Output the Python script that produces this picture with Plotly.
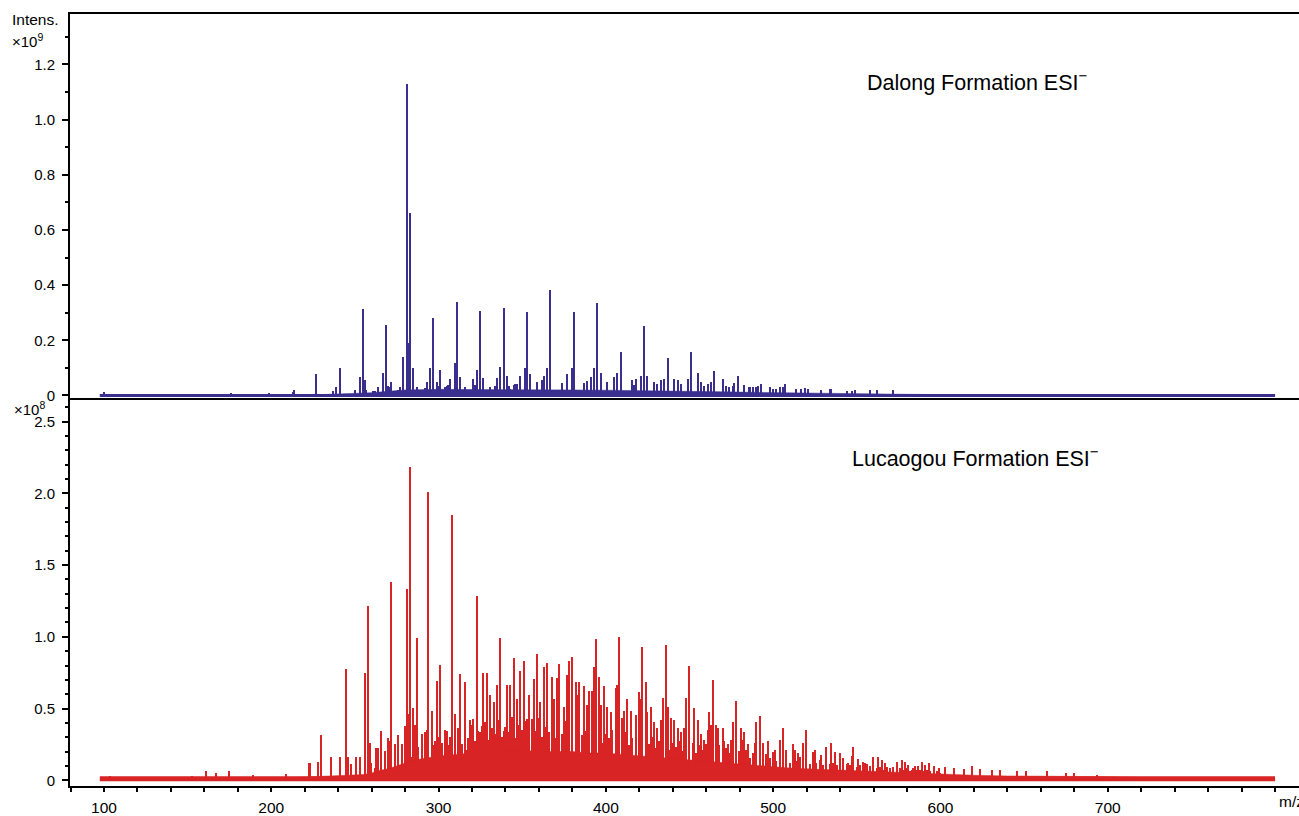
import plotly.graph_objects as go

# ---------------- DATA ----------------
# Dalong Formation (top, intensity x1e9)
dalong_mz = [100, 104, 120, 140, 160, 176, 199, 213, 214, 227, 237, 239, 241, 250, 253, 255, 256, 257,
             261, 262, 264, 267, 269, 270, 271, 272, 276, 277, 279, 281, 282, 283, 285, 287, 290, 292,
             293, 295, 297, 299, 300, 301, 304, 305, 306, 307, 310, 311, 313, 316, 319, 321, 322, 323,
             325, 327, 331, 334, 335, 337, 339, 341, 342, 343, 345, 346, 347, 349, 352, 353, 355, 359,
             362, 363, 365, 367, 374, 377, 380, 381, 387, 389, 391, 393, 395, 397, 401, 405, 407, 409,
             416, 417, 418, 421, 423, 425, 429, 431, 433, 435, 437, 441, 443, 445, 449, 451, 455, 457,
             459, 461, 463, 465, 470, 472, 474, 476, 477, 479, 483, 486, 488, 490, 491, 493, 498, 500,
             502, 504, 506, 507, 514, 517, 519, 521, 529, 534, 535, 544, 547, 549, 558, 562, 572]
dalong_int = [0.012, 0.006, 0.006, 0.006, 0.006, 0.008, 0.008, 0.012, 0.018, 0.079, 0.015, 0.03, 0.099, 0.02, 0.068, 0.314, 0.055, 0.02,
              0.015, 0.015, 0.03, 0.083, 0.254, 0.035, 0.03, 0.047, 0.02, 0.03, 0.14, 1.13, 0.19, 0.66, 0.10, 0.03, 0.018, 0.028,
              0.048, 0.10, 0.28, 0.048, 0.033, 0.094, 0.03, 0.033, 0.036, 0.06, 0.119, 0.338, 0.068, 0.03, 0.02, 0.059, 0.036, 0.094,
              0.307, 0.064, 0.03, 0.035, 0.062, 0.104, 0.317, 0.07, 0.033, 0.025, 0.036, 0.043, 0.04, 0.071, 0.10, 0.302, 0.077, 0.047,
              0.055, 0.071, 0.10, 0.383, 0.045, 0.077, 0.10, 0.302, 0.045, 0.052, 0.068, 0.10, 0.335, 0.082, 0.047, 0.066, 0.082, 0.158,
              0.057, 0.037, 0.06, 0.071, 0.253, 0.071, 0.047, 0.042, 0.057, 0.06, 0.136, 0.06, 0.057, 0.04, 0.06, 0.158, 0.082, 0.047,
              0.035, 0.04, 0.047, 0.088, 0.061, 0.035, 0.03, 0.035, 0.045, 0.071, 0.037, 0.03, 0.03, 0.03, 0.035, 0.04, 0.03, 0.025,
              0.025, 0.03, 0.03, 0.04, 0.025, 0.025, 0.027, 0.025, 0.018, 0.022, 0.022, 0.016, 0.016, 0.018, 0.018, 0.018, 0.018]
dalong_env_mz = [230, 250, 260, 270, 280, 300, 320, 340, 360, 380, 400, 420, 440, 460, 480, 500, 520, 540, 560, 580, 600]
dalong_env = [0.003, 0.006, 0.01, 0.015, 0.02, 0.022, 0.022, 0.021, 0.02, 0.02, 0.019, 0.018, 0.016, 0.014, 0.012, 0.01, 0.008, 0.006, 0.005, 0.004, 0.003]

# Lucaogou Formation (bottom, intensity x1e8) - main peaks
lucaogou_mz = [104, 153, 161, 167, 175, 189, 209, 223, 228, 230, 236, 241, 245, 246, 248, 251, 253, 256, 258, 259,
               263, 264, 266, 268, 270, 271, 272, 274, 276, 278, 280, 281, 282, 283, 285, 286, 287, 288, 290, 292,
               293, 294, 296, 297, 298, 299, 301, 302, 305, 307, 308, 310, 312, 313, 314, 316, 317, 319, 321, 323,
               325, 326, 327, 329, 331, 333, 335, 337, 339, 341, 343, 345, 347, 349, 351, 353, 354, 356, 357, 359,
               361, 363, 365, 368, 369, 371, 372, 375, 377, 378, 380, 382, 383, 384, 387, 389, 390, 392, 393, 394,
               396, 397, 399, 401, 403, 406, 407, 408, 410, 411, 413, 415, 418, 420, 421, 422, 424, 425, 427, 429,
               431, 433, 434, 436, 437, 439, 441, 443, 445, 447, 448, 450, 453, 455, 457, 459, 461, 462, 463, 464,
               466, 467, 470, 471, 473, 475, 476, 478, 481, 482, 483, 485, 489, 490, 492, 494, 497, 500, 501, 504,
               506, 508, 512, 513, 515, 518, 520, 524, 525, 529, 532, 535, 537, 540, 542, 545, 547, 548, 551, 554,
               555, 558, 560, 563, 565, 567, 572, 574, 577, 579, 581, 583, 585, 587, 589, 591, 593, 596, 599, 603,
               608, 614, 619, 624, 631, 636, 646, 651, 664, 675, 680, 694]
lucaogou_int = [0.03, 0.03, 0.058, 0.046, 0.058, 0.035, 0.04, 0.12, 0.125, 0.315, 0.16, 0.16, 0.775, 0.16, 0.11, 0.16, 0.16, 0.745, 1.215, 0.26,
                0.22, 0.22, 0.34, 0.19, 0.29, 0.27, 1.38, 0.25, 0.31, 0.24, 0.375, 1.33, 0.46, 2.18, 0.50, 0.38, 0.99, 0.23, 0.32, 0.27,
                0.35, 2.01, 0.48, 0.24, 0.27, 0.69, 0.80, 0.16, 0.34, 0.30, 1.845, 0.46, 0.35, 0.736, 0.19, 0.68, 0.21, 0.415, 0.425, 1.28,
                0.33, 0.375, 0.745, 0.745, 0.59, 0.54, 0.66, 0.99, 0.34, 0.66, 0.66, 0.85, 0.56, 0.76, 0.83, 0.425, 0.59, 0.425, 0.70, 0.88,
                0.54, 0.787, 0.817, 0.717, 0.56, 0.71, 0.805, 0.51, 0.733, 0.83, 0.856, 0.683, 0.59, 0.683, 0.653, 0.52, 0.62, 0.62, 0.787, 0.98,
                0.72, 0.52, 0.653, 0.51, 0.47, 0.64, 0.66, 0.993, 0.43, 0.48, 0.56, 0.48, 0.45, 0.61, 0.56, 0.926, 0.68, 0.47, 0.51, 0.40,
                0.36, 0.42, 0.57, 0.937, 0.51, 0.43, 0.42, 0.36, 0.33, 0.36, 0.57, 0.794, 0.50, 0.42, 0.32, 0.28, 0.35, 0.47, 0.38, 0.694,
                0.38, 0.36, 0.36, 0.27, 0.25, 0.28, 0.40, 0.548, 0.36, 0.28, 0.33, 0.25, 0.26, 0.40, 0.446, 0.26, 0.27, 0.195, 0.21, 0.28,
                0.36, 0.21, 0.25, 0.21, 0.19, 0.26, 0.35, 0.195, 0.21, 0.17, 0.23, 0.26, 0.195, 0.19, 0.155, 0.12, 0.167, 0.23, 0.146, 0.125,
                0.115, 0.097, 0.157, 0.162, 0.14, 0.115, 0.08, 0.125, 0.14, 0.125, 0.104, 0.07, 0.097, 0.097, 0.125, 0.104, 0.115, 0.097, 0.08, 0.088,
                0.08, 0.074, 0.097, 0.074, 0.07, 0.07, 0.058, 0.058, 0.058, 0.046, 0.046, 0.035]

# Lucaogou minor peaks (the dense "grass" at even m/z, 258 ... 600)
lucaogou_minor_mz = list(range(258, 601, 2))
lucaogou_minor_int = [0.09, 0.12, 0.08, 0.15, 0.10, 0.20, 0.13, 0.17, 0.22, 0.14,
                      0.25, 0.19, 0.30, 0.16, 0.28, 0.21, 0.25, 0.33, 0.18, 0.27,
                      0.22, 0.30, 0.26, 0.35, 0.24, 0.31, 0.28, 0.36, 0.25, 0.33,
                      0.29, 0.38, 0.27, 0.34, 0.31, 0.40, 0.28, 0.36, 0.32, 0.42,
                      0.30, 0.37, 0.33, 0.44, 0.29, 0.38, 0.35, 0.41, 0.31, 0.39,
                      0.34, 0.43, 0.30, 0.37, 0.33, 0.40, 0.29, 0.36, 0.32, 0.41,
                      0.30, 0.35, 0.28, 0.38, 0.31, 0.34, 0.27, 0.36, 0.30, 0.33,
                      0.26, 0.32, 0.29, 0.35, 0.25, 0.30, 0.27, 0.33, 0.24, 0.29,
                      0.26, 0.31, 0.23, 0.28, 0.25, 0.30, 0.22, 0.27, 0.24, 0.28,
                      0.21, 0.26, 0.23, 0.27, 0.20, 0.25, 0.22, 0.26, 0.19, 0.24,
                      0.21, 0.25, 0.18, 0.23, 0.20, 0.24, 0.17, 0.22, 0.19, 0.21,
                      0.16, 0.20, 0.18, 0.21, 0.15, 0.19, 0.17, 0.20, 0.14, 0.18,
                      0.15, 0.17, 0.13, 0.16, 0.14, 0.17, 0.12, 0.15, 0.13, 0.16,
                      0.12, 0.14, 0.11, 0.13, 0.12, 0.14, 0.10, 0.13, 0.11, 0.12,
                      0.10, 0.12, 0.09, 0.11, 0.10, 0.12, 0.09, 0.10, 0.08, 0.11,
                      0.09, 0.10, 0.08, 0.09, 0.07, 0.09, 0.08, 0.09, 0.07, 0.08,
                      0.07, 0.08, 0.06, 0.08, 0.07, 0.07, 0.06, 0.07, 0.06, 0.07,
                      0.06, 0.05]

lucaogou_env_mz = [215, 240, 255, 260, 265, 270, 275, 280, 285, 290, 300, 310, 320, 330, 340, 350, 360, 370, 380, 390, 400,
                   410, 420, 430, 440, 450, 460, 470, 480, 490, 500, 510, 520, 530, 540, 550, 560, 570, 580, 590, 600,
                   620, 640, 660, 680, 700, 720]
lucaogou_env = [0.02, 0.03, 0.04, 0.05, 0.07, 0.08, 0.10, 0.12, 0.14, 0.15, 0.17, 0.18, 0.19, 0.20, 0.21, 0.21, 0.20, 0.20, 0.20, 0.19, 0.19,
                0.18, 0.17, 0.16, 0.15, 0.14, 0.13, 0.12, 0.11, 0.10, 0.09, 0.085, 0.08, 0.075, 0.07, 0.065, 0.06, 0.055, 0.05, 0.045, 0.04,
                0.035, 0.03, 0.03, 0.025, 0.025, 0.02]

baseline_mz = [97.5, 800]
dalong_base = [0.0, 0.0]
lucaogou_base = [0.01, 0.01]

x_ticks = [100, 200, 300, 400, 500, 600, 700]
x_ticktext = ["100", "200", "300", "400", "500", "600", "700"]
y1_ticks = [0, 0.2, 0.4, 0.6, 0.8, 1.0, 1.2]
y1_ticktext = ["0", "0.2", "0.4", "0.6", "0.8", "1.0", "1.2"]
y2_ticks = [0, 0.5, 1.0, 1.5, 2.0, 2.5]
y2_ticktext = ["0", "0.5", "1.0", "1.5", "2.0", "2.5"]

BLUE = "#3a2f8e"
RED = "#d82424"
FONT = "Liberation Sans, Arial, Helvetica, sans-serif"

fig = go.Figure()

# top panel
fig.add_trace(go.Scatter(x=dalong_env_mz, y=dalong_env, mode="lines", fill="tozeroy",
                         line=dict(color=BLUE, width=0.5), fillcolor=BLUE, xaxis="x", yaxis="y",
                         showlegend=False, hoverinfo="skip"))
fig.add_trace(go.Scatter(x=baseline_mz, y=dalong_base, mode="lines", line=dict(color=BLUE, width=3),
                         xaxis="x", yaxis="y", showlegend=False, hoverinfo="skip"))
fig.add_trace(go.Bar(x=dalong_mz, y=dalong_int, width=0.9, marker=dict(color=BLUE, line=dict(width=0)),
                     xaxis="x", yaxis="y", showlegend=False))

# bottom panel
fig.add_trace(go.Scatter(x=lucaogou_env_mz, y=lucaogou_env, mode="lines", fill="tozeroy",
                         line=dict(color=RED, width=0.5), fillcolor=RED, xaxis="x2", yaxis="y2",
                         showlegend=False, hoverinfo="skip"))
fig.add_trace(go.Scatter(x=baseline_mz, y=lucaogou_base, mode="lines", line=dict(color=RED, width=5),
                         xaxis="x2", yaxis="y2", showlegend=False, hoverinfo="skip"))
fig.add_trace(go.Bar(x=lucaogou_minor_mz, y=lucaogou_minor_int, width=0.9, marker=dict(color=RED, line=dict(width=0)),
                     xaxis="x2", yaxis="y2", showlegend=False))
fig.add_trace(go.Bar(x=lucaogou_mz, y=lucaogou_int, width=0.9, marker=dict(color=RED, line=dict(width=0)),
                     xaxis="x2", yaxis="y2", showlegend=False))

split = 0.502
xr = [79.7, 814.3]
fig.update_layout(
    width=1299, height=816,
    margin=dict(l=70, r=0, t=14, b=27),
    paper_bgcolor="white", plot_bgcolor="white",
    bargap=0, barmode="overlay",
    font=dict(family=FONT, size=14, color="black"),
    xaxis=dict(domain=[0, 1], anchor="y", range=xr, showline=True, mirror=True, linecolor="black",
               linewidth=2, ticks="", showticklabels=False, showgrid=False, zeroline=False),
    yaxis=dict(domain=[split, 1], anchor="x", range=[-0.011, 1.383], showline=True, linecolor="black",
               linewidth=2, ticks="outside", ticklen=6, tickwidth=1.5, tickcolor="black",
               tickvals=y1_ticks, ticktext=y1_ticktext, showgrid=False, zeroline=False,
               tickfont=dict(size=15), ticklabelstandoff=4,
               minor=dict(tickmode="linear", tick0=0, dtick=0.1, ticks="outside", ticklen=3,
                          tickwidth=1.5, tickcolor="black", showgrid=False)),
    xaxis2=dict(domain=[0, 1], anchor="y2", range=xr, showline=True, linecolor="black", linewidth=2,
                ticks="outside", ticklen=4, tickwidth=1.5, tickcolor="black",
                tickvals=x_ticks, ticktext=x_ticktext, showgrid=False, zeroline=False,
                tickfont=dict(size=15.5), ticklabelstandoff=2,
                minor=dict(tickmode="linear", tick0=0, dtick=20, ticks="outside", ticklen=4,
                           tickwidth=1.5, tickcolor="black", showgrid=False)),
    yaxis2=dict(domain=[0, split], anchor="x2", range=[-0.04, 2.662], showline=True, linecolor="black",
                linewidth=2, ticks="outside", ticklen=6, tickwidth=1.5, tickcolor="black",
                tickvals=y2_ticks, ticktext=y2_ticktext, showgrid=False, zeroline=False,
                tickfont=dict(size=15), ticklabelstandoff=4,
                minor=dict(tickmode="linear", tick0=0, dtick=0.1, ticks="outside", ticklen=3,
                           tickwidth=1.5, tickcolor="black", showgrid=False)),
)

ann = [
    dict(text="Intens.", x=-0.0488, y=0.9923, xanchor="left", yanchor="middle", font=dict(size=15.5)),
    dict(text="×10<sup>9</sup>", x=-0.0488, y=0.966, xanchor="left", yanchor="middle", font=dict(size=15)),
    dict(text="×10<sup>8</sup>", x=-0.047, y=0.4895, xanchor="left", yanchor="middle", font=dict(size=15)),
    dict(text="Dalong Formation ESI<sup>−</sup>", x=0.6469, y=0.9135, xanchor="left", yanchor="middle", font=dict(size=21.5)),
    dict(text="Lucaogou Formation ESI<sup>−</sup>", x=0.6347, y=0.4257, xanchor="left", yanchor="middle", font=dict(size=21.5)),
    dict(text="m/z", x=0.9825, y=-0.0206, xanchor="left", yanchor="middle", font=dict(size=15.5)),
]
for a in ann:
    a.update(xref="paper", yref="paper", showarrow=False)
fig.update_layout(annotations=ann)

fig.write_html("out.html")
